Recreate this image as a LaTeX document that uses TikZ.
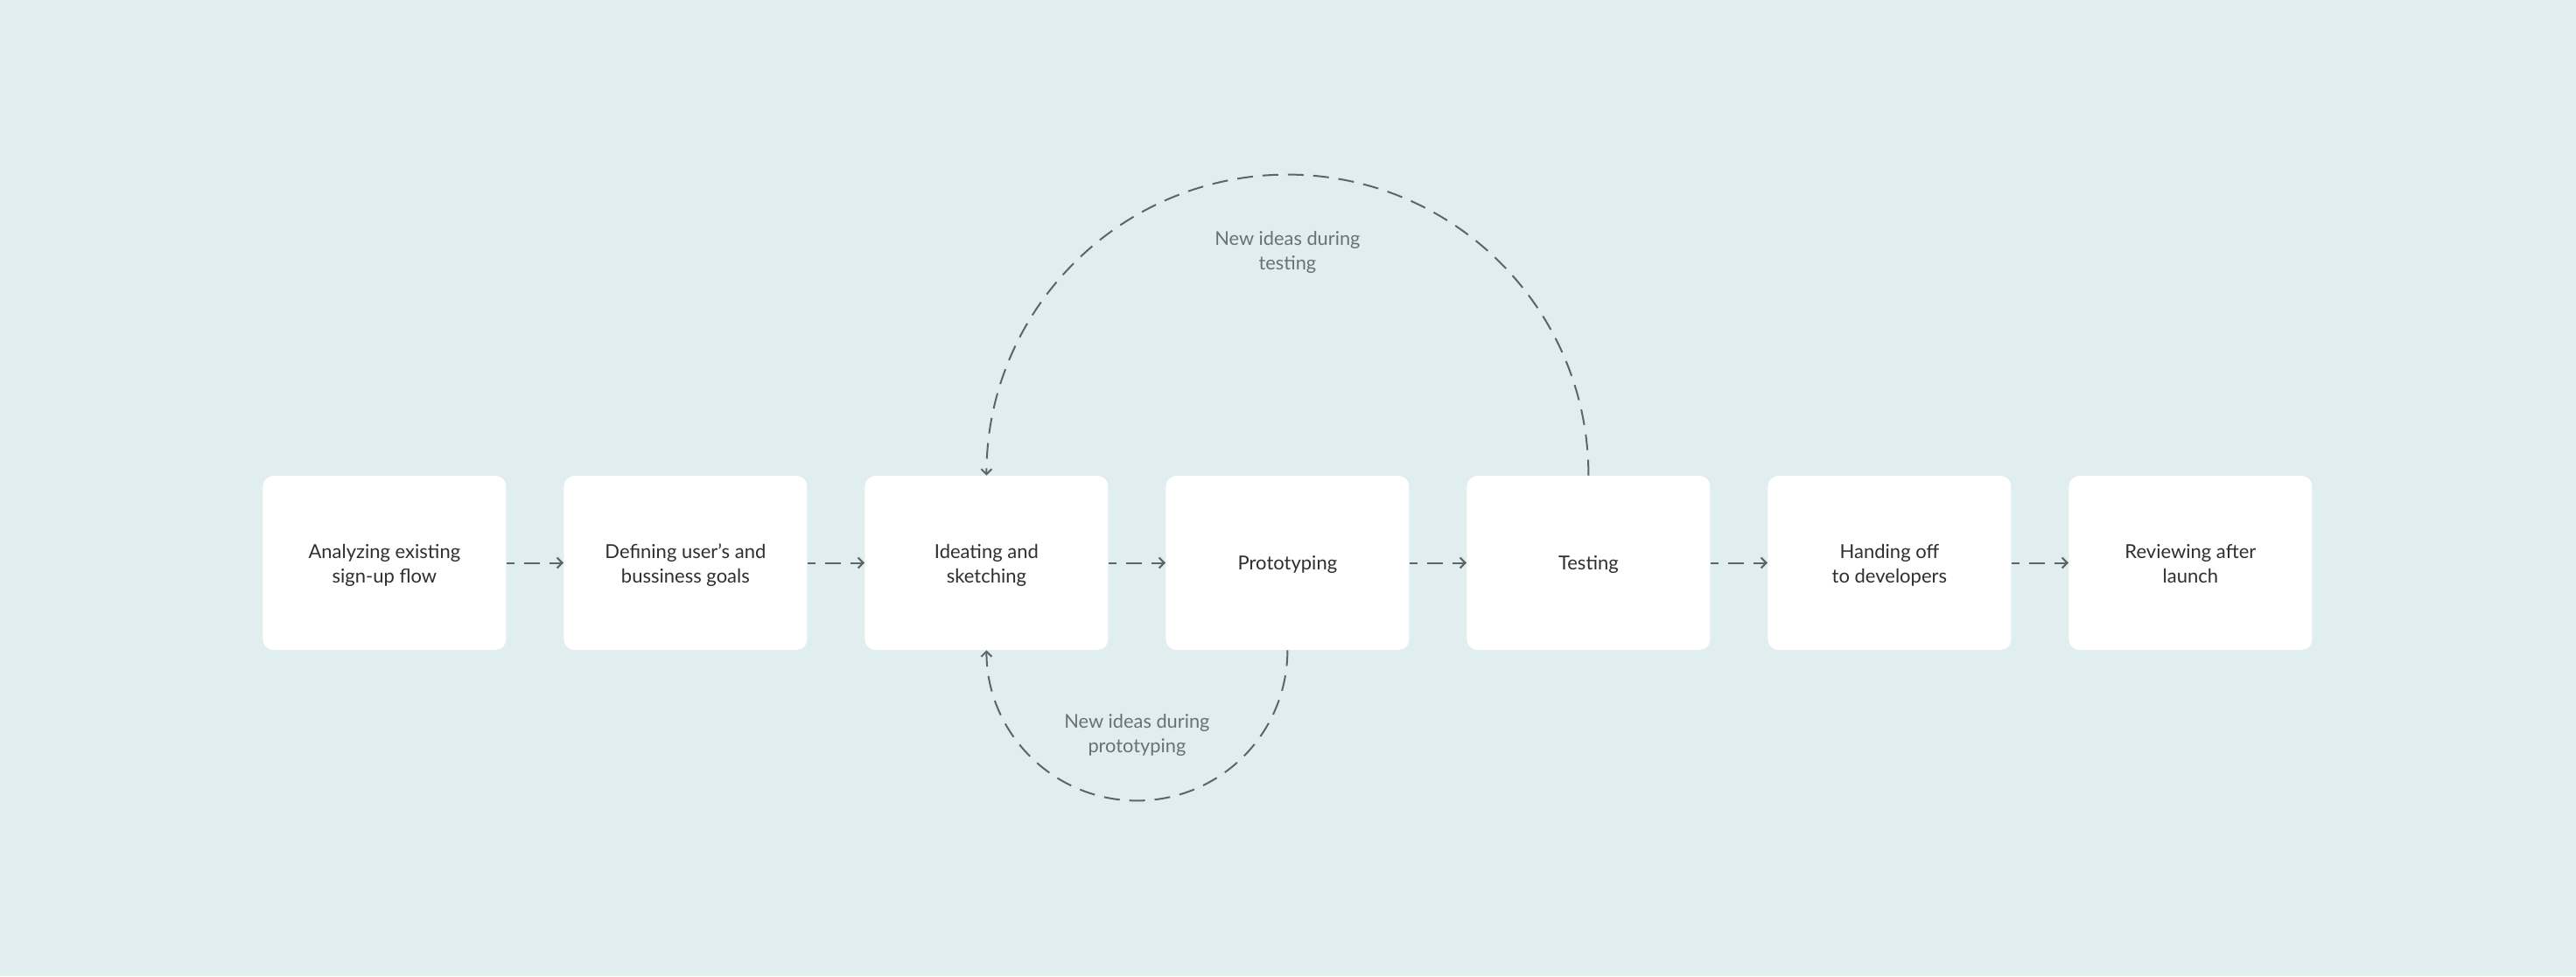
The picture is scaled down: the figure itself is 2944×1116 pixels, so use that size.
\documentclass[tikz,border=0pt]{standalone}
\usepackage{fontspec}
\setmainfont{Lato}
\usetikzlibrary{arrows.meta}
\definecolor{bg}{HTML}{E0EEEF}
\definecolor{boxtext}{HTML}{2D2F30}
\definecolor{labtext}{HTML}{6B7173}
\definecolor{linec}{HTML}{5F6567}
\newcommand{\twolines}[2]{\raisebox{-1.9pt}[\height][\depth]{\begin{tabular}{@{}c@{}}#1\\#2\end{tabular}}}
\newcommand{\oneline}[1]{\raisebox{-0.9pt}[\height][\depth]{#1}}
\begin{document}
\begin{tikzpicture}[x=0.5pt,y=0.5pt,
  stepbox/.style={fill=white, rounded corners=6pt, minimum width=139pt, minimum height=99.5pt, inner sep=0pt, align=center, text=boxtext, font=\fontsize{11}{14}\selectfont},
  flow/.style={draw=linec, line width=1pt, dash pattern=on 9pt off 5.5pt, dash phase=4.5pt, -{Straight Barb[length=3pt,width=6pt]}},
  lab/.style={align=center, text=labtext, font=\fontsize{10.9}{14}\selectfont}]
\fill[bg] (0,0) rectangle (2944,1116);
\useasboundingbox (0,0) rectangle (2944,1116);
\node[stepbox] (b1) at (439.4,472.5) {\twolines{Analyzing existing}{sign-up flow}};
\node[stepbox] (b2) at (783.4,472.5) {\twolines{Defining user’s and}{bussiness goals}};
\node[stepbox] (b3) at (1127.4,472.5) {\twolines{Ideating and}{sketching}};
\node[stepbox] (b4) at (1471.4,472.5) {\oneline{Prototyping}};
\node[stepbox] (b5) at (1815.4,472.5) {\oneline{Testing}};
\node[stepbox] (b6) at (2159.4,472.5) {\twolines{Handing off}{to developers}};
\node[stepbox] (b7) at (2503.4,472.5) {\twolines{Reviewing after}{launch}};
\draw[flow] (b1) -- (b2);
\draw[flow] (b2) -- (b3);
\draw[flow] (b3) -- (b4);
\draw[flow] (b4) -- (b5);
\draw[flow] (b5) -- (b6);
\draw[flow] (b6) -- (b7);
\draw[flow, dash phase=0pt] (b5.north) arc[start angle=0, end angle=180, radius=172pt];
\draw[flow, dash phase=0pt] (b4.south) arc[start angle=0, end angle=-180, radius=86pt];
\node[lab] (l1) at (1471.4,828) {New ideas during\\testing};
\node[lab] (l2) at (1299.4,276) {New ideas during\\prototyping};
\end{tikzpicture}
\end{document}
